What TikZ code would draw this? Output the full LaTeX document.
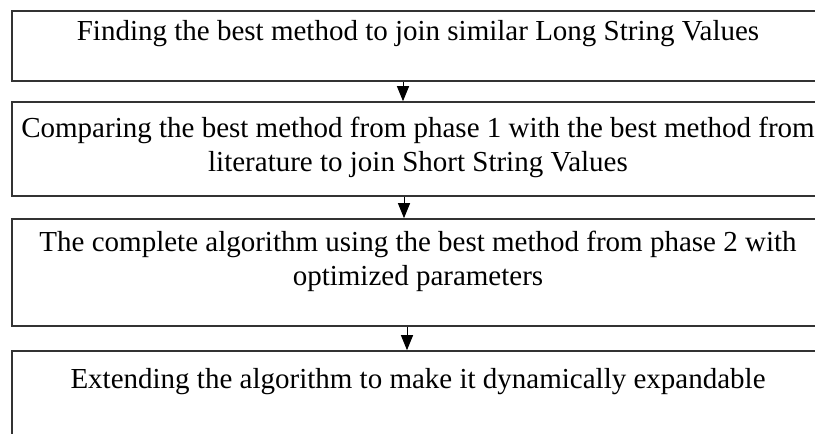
\documentclass[tikz,border=0pt]{standalone}
\usepackage{fontspec}
\setmainfont{Liberation Serif}
\usetikzlibrary{arrows.meta}

\begin{document}
\begin{tikzpicture}[
    x=1pt, y=-1pt,
    box/.style={rectangle, draw=black!80, line width=1.6pt, minimum width=812pt, inner sep=0pt},
    txt/.style={align=center, inner sep=0pt, font=\fontsize{29}{34}\selectfont},
    arrow/.style={-{Triangle[width=12pt,length=15pt]}, line width=1pt},
]
\useasboundingbox (0,0) rectangle (815,434);

% Phases
\node[box, minimum height=70pt] (phase1) at (418,46) {};
\node[box, minimum height=94pt] (phase2) at (418,149) {};
\node[box, minimum height=107pt] (phase3) at (418,272.5) {};
\node[box, minimum height=110pt] (phase4) at (418,406) {};

% Labels (base = last line)
\node[txt, anchor=base] (lab1) at (418,40) {Finding the best method to join similar Long String Values};
\node[txt, anchor=base] (lab2) at (418,171) {Comparing the best method from phase 1 with the best method from\\literature to join Short String Values};
\node[txt, anchor=base] (lab3) at (418,285) {The complete algorithm using the best method from phase 2 with\\optimized parameters};
\node[txt, anchor=base] (lab4) at (418,388) {Extending the algorithm to make it dynamically expandable};

\draw[arrow] ([xshift=-15pt]phase1.south) -- ([xshift=-15pt]phase2.north);
\draw[arrow] ([xshift=-14pt]phase2.south) -- ([xshift=-14pt]phase3.north);
\draw[arrow] ([xshift=-11pt]phase3.south) -- ([xshift=-11pt]phase4.north);

\end{tikzpicture}
\end{document}
